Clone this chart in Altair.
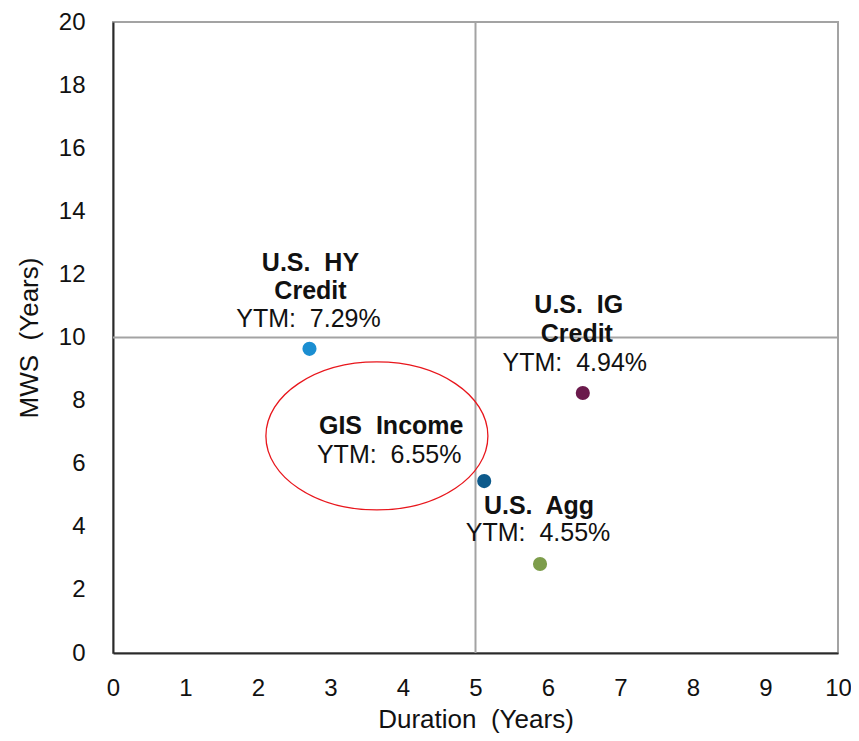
import altair as alt
import pandas as pd

NB = "\u00a0"

# ---- data ----
names = ["U.S. HY Credit", "U.S. IG Credit", "GIS Income", "U.S. Agg"]
name_lines = [["U.S." + NB + " HY", "Credit"], ["U.S." + NB + " IG", "Credit"],
              ["GIS" + NB + " Income"], ["U.S." + NB + " Agg"]]
duration = [2.71, 6.48, 5.12, 5.89]
mws = [9.64, 8.24, 5.45, 2.82]
ytm = [7.29, 4.94, 6.55, 4.55]
colors = ["#1b8ed1", "#6b1a4c", "#0d5a8b", "#7d9d4b"]

x_ticks = list(range(0, 11))
y_ticks = list(range(0, 21, 2))
ref_x = [5]
ref_y = [10]
ellipse_x = [3.64]
ellipse_y = [6.88]

# ---- label offsets (pixels, styling only) ----
name_dx = [[1, 1], [-4, -6], [-93], [-1]]
name_dy = [[-86, -58], [-88, -59], [-55], [-58]]
ytm_dx = [-1, -8, -95, -2]
ytm_dy = [-30, -30, -26, -31]

FONT = "Liberation Sans"

df = pd.DataFrame({"name": names, "duration": duration, "mws": mws,
                   "ytm": [f"YTM:{NB} {v:.2f}%" for v in ytm]})

xs = alt.Scale(domain=[0, 10], nice=False, zero=False)
ys = alt.Scale(domain=[0, 20], nice=False, zero=False)

X = alt.X("duration:Q", scale=xs, title="Duration" + NB + " (Years)",
          axis=alt.Axis(values=x_ticks, format="d", labelPadding=23, labelFlush=False,
                        titleY=74, titleBaseline="alphabetic"))
Y = alt.Y("mws:Q", scale=ys, title="MWS" + NB + " (Years)",
          axis=alt.Axis(values=y_ticks, format="d", labelPadding=28, labelFlush=False,
                        titleX=-84, titleBaseline="middle"))

rule_v = alt.Chart(pd.DataFrame({"x": ref_x})).mark_rule(
    color="#a3a3a3", strokeWidth=2).encode(x=alt.X("x:Q", scale=xs))
rule_h = alt.Chart(pd.DataFrame({"y": ref_y})).mark_rule(
    color="#a3a3a3", strokeWidth=2).encode(y=alt.Y("y:Q", scale=ys))

ellipse = alt.Chart(pd.DataFrame({"x": ellipse_x, "y": ellipse_y})).mark_point(
    shape="M -1.5,0 A 1.5,1 0 1,0 1.5,0 A 1.5,1 0 1,0 -1.5,0 Z",
    size=21904, filled=False, stroke="#e8161c", strokeWidth=1.3, opacity=1
).encode(x=alt.X("x:Q", scale=xs), y=alt.Y("y:Q", scale=ys))

points = alt.Chart(df).mark_circle(size=200, opacity=1).encode(
    x=X, y=Y,
    color=alt.Color("name:N", scale=alt.Scale(domain=names, range=colors), legend=None),
)

layers = [rule_v, rule_h, ellipse, points]
for i in range(len(names)):
    row = pd.DataFrame({"duration": [duration[i]], "mws": [mws[i]]})
    for j, line in enumerate(name_lines[i]):
        layers.append(alt.Chart(row.assign(t=line)).mark_text(
            font=FONT, fontSize=25, fontWeight="bold", color="#111111",
            baseline="middle", align="center", dx=name_dx[i][j], dy=name_dy[i][j]
        ).encode(x=alt.X("duration:Q", scale=xs), y=alt.Y("mws:Q", scale=ys), text="t:N"))
    layers.append(alt.Chart(row.assign(t=df["ytm"][i])).mark_text(
        font=FONT, fontSize=25, color="#111111",
        baseline="middle", align="center", dx=ytm_dx[i], dy=ytm_dy[i]
    ).encode(x=alt.X("duration:Q", scale=xs), y=alt.Y("mws:Q", scale=ys), text="t:N"))

chart = alt.layer(*layers).properties(
    width=725, height=631,
    autosize=alt.AutoSizeParams(type="none"),
    padding={"left": 105, "top": 14, "right": 13, "bottom": 80},
).configure_view(
    stroke="#a3a3a3", strokeWidth=2
).configure_axis(
    grid=False, ticks=False, domainColor="#2a2a2a", domainWidth=2,
    labelFont=FONT, labelFontSize=24, labelColor="#111111",
    titleFont=FONT, titleFontSize=26, titleFontWeight="normal", titleColor="#111111",
)

chart.save("out.html", embed_options={"renderer": "svg", "actions": False})
